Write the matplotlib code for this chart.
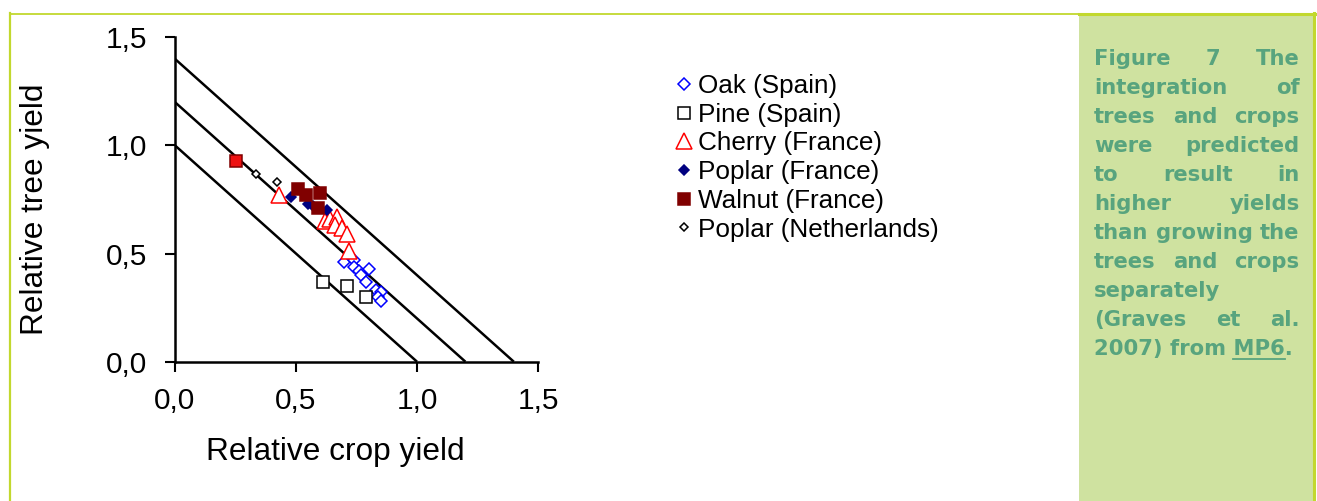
import matplotlib
matplotlib.use('Agg')
import matplotlib.pyplot as plt
from matplotlib.lines import Line2D
from matplotlib.patches import Rectangle

# ---------------- data ----------------
oak_x = [0.70, 0.74, 0.74, 0.76, 0.80, 0.77, 0.79, 0.83, 0.85, 0.84, 0.85]
oak_y = [0.46, 0.47, 0.44, 0.42, 0.43, 0.40, 0.37, 0.33, 0.32, 0.30, 0.28]

pine_x = [0.61, 0.71, 0.79]
pine_y = [0.37, 0.35, 0.30]

cherry_x = [0.43, 0.62, 0.64, 0.67, 0.66, 0.69, 0.71, 0.72]
cherry_y = [0.77, 0.65, 0.66, 0.67, 0.63, 0.62, 0.59, 0.51]

poplar_fr_x = [0.48, 0.55, 0.57, 0.63]
poplar_fr_y = [0.76, 0.73, 0.72, 0.70]

walnut_x = [0.51, 0.54, 0.60, 0.59]
walnut_y = [0.80, 0.77, 0.78, 0.71]

highlight_x = [0.25]
highlight_y = [0.93]

poplar_nl_x = [0.335, 0.42]
poplar_nl_y = [0.87, 0.83]

ler_levels = [1.0, 1.2, 1.4]

tick_values = [0.0, 0.5, 1.0, 1.5]
tick_labels = ['0,0', '0,5', '1,0', '1,5']

series_labels = ['Oak (Spain)', 'Pine (Spain)', 'Cherry (France)',
                 'Poplar (France)', 'Walnut (France)', 'Poplar (Netherlands)']

x_label = 'Relative crop yield'
y_label = 'Relative tree yield'

caption_lines = [
    ('Figure 7 The', True),
    ('integration of', True),
    ('trees and crops', True),
    ('were predicted', True),
    ('to result in', True),
    ('higher yields', True),
    ('than growing the', True),
    ('trees and crops', True),
    ('separately', False),
    ('(Graves et al.', True),
    ('2007) from MP6.', False),
]
link_word = 'MP6'

# ---------------- figure ----------------
W, H = 1317, 501
plt.rcParams['font.family'] = ['Liberation Sans', 'DejaVu Sans']
fig = plt.figure(figsize=(W / 100, H / 100), dpi=100)


def fx(px):
    return px / W


def fy(py):
    return 1 - py / H


BORDER = '#c2d82e'
BOX = '#cfe2a0'
TXT = '#58a47e'

# decorations
fig.add_artist(Rectangle((fx(1079), 0), fx(1314) - fx(1079), fy(14),
                         transform=fig.transFigure, facecolor=BOX,
                         edgecolor='none', zorder=0))
fig.add_artist(Line2D([fx(10), fx(1079)], [fy(13.5), fy(13.5)],
                      transform=fig.transFigure, color=BORDER, lw=1.3))
fig.add_artist(Line2D([fx(1079), fx(1315)], [fy(13.8), fy(13.8)],
                      transform=fig.transFigure, color=BORDER, lw=2.2))
fig.add_artist(Line2D([fx(10.2), fx(10.2)], [fy(13), 0],
                      transform=fig.transFigure, color=BORDER, lw=1.6))
fig.add_artist(Line2D([fx(1314), fx(1314)], [fy(13), 0],
                      transform=fig.transFigure, color=BORDER, lw=2.2))

# axes
ax = fig.add_axes([fx(175), fy(361.7), fx(538) - fx(175), (361.7 - 37.3) / H])
ax.set_xlim(0, 1.5)
ax.set_ylim(0, 1.5)
for s in ['top', 'right']:
    ax.spines[s].set_visible(False)
for s in ['left', 'bottom']:
    ax.spines[s].set_linewidth(1.8)
ax.set_xticks(tick_values)
ax.set_xticklabels(tick_labels)
ax.set_yticks(tick_values)
ax.set_yticklabels(tick_labels)
ax.tick_params(axis='both', direction='out', length=7, width=1.5,
               labelsize=21.5, colors='black')
ax.tick_params(axis='x', pad=11)
ax.tick_params(axis='y', pad=13)
ax.patch.set_alpha(0)

for c in ler_levels:
    ax.plot([0, c], [c, 0], color='black', lw=1.8, zorder=1,
            solid_capstyle='butt')

mew = 1.1
h_oak, = ax.plot(oak_x, oak_y, ls='none', marker='D', ms=6, mfc='white',
                 mec='#0000ff', mew=mew, label=series_labels[0], zorder=3)
h_pine, = ax.plot(pine_x, pine_y, ls='none', marker='s', ms=8, mfc='white',
                  mec='black', mew=mew, label=series_labels[1], zorder=3)
h_cherry, = ax.plot(cherry_x, cherry_y, ls='none', marker='^', ms=11,
                    mfc='white', mec='#ff0000', mew=mew,
                    label=series_labels[2], zorder=3)
h_pfr, = ax.plot(poplar_fr_x, poplar_fr_y, ls='none', marker='D', ms=5.5,
                 mfc='#000080', mec='#000080', mew=mew,
                 label=series_labels[3], zorder=4)
h_wal, = ax.plot(walnut_x, walnut_y, ls='none', marker='s', ms=8,
                 mfc='#800000', mec='#800000', mew=mew,
                 label=series_labels[4], zorder=5)
ax.plot(highlight_x, highlight_y, ls='none', marker='s', ms=8,
        mfc='#ee1111', mec='#800000', mew=mew, zorder=5)
h_pnl, = ax.plot(poplar_nl_x, poplar_nl_y, ls='none', marker='D', ms=4,
                 mfc='white', mec='black', mew=mew,
                 label=series_labels[5], zorder=5)

fig.legend(handles=[h_oak, h_pine, h_cherry, h_pfr, h_wal, h_pnl],
           loc='upper left', bbox_to_anchor=(fx(676), fy(74)),
           frameon=False, fontsize=18.8, handlelength=0.6,
           handletextpad=0.25, labelspacing=0.18, borderpad=0,
           borderaxespad=0)

fig.text(fx(335.5), fy(460), x_label, fontsize=22.8, ha='center',
         va='baseline')
fig.text(fx(35.5), fy(209), y_label, fontsize=22.8, ha='center',
         va='center', rotation=90)

# caption (justified)
renderer = fig.canvas.get_renderer()
cap_fs = 15.2
cap_kw = dict(fontsize=cap_fs, fontweight='bold', family='DejaVu Sans',
              color=TXT, va='baseline')


def text_w(s):
    t = fig.text(0, 0, s, **cap_kw)
    w = t.get_window_extent(renderer).width
    t.remove()
    return w


L, R = 1094, 1299.5
base0, step = 65.3, 29.0
for i, (line, justify) in enumerate(caption_lines):
    yb = fy(base0 + i * step)
    words = line.split(' ')
    if justify and len(words) > 1:
        widths = [text_w(w) for w in words]
        gap = (R - L - sum(widths)) / (len(words) - 1)
        x = L
        for w, wd in zip(words, widths):
            fig.text(fx(x), yb, w, ha='left', **cap_kw)
            x += wd + gap
    else:
        fig.text(fx(L), yb, line, ha='left', **cap_kw)
        if link_word in line:
            pre = line[:line.index(link_word) + len(link_word)]
            x_end = L + text_w(pre)
            x_start = x_end - text_w(link_word)
            uy = fy(base0 + i * step + 3.5)
            fig.add_artist(Line2D([fx(x_start), fx(x_end)], [uy, uy],
                                  transform=fig.transFigure, color=TXT,
                                  lw=1.3))

fig.savefig('out.png', dpi=100)
